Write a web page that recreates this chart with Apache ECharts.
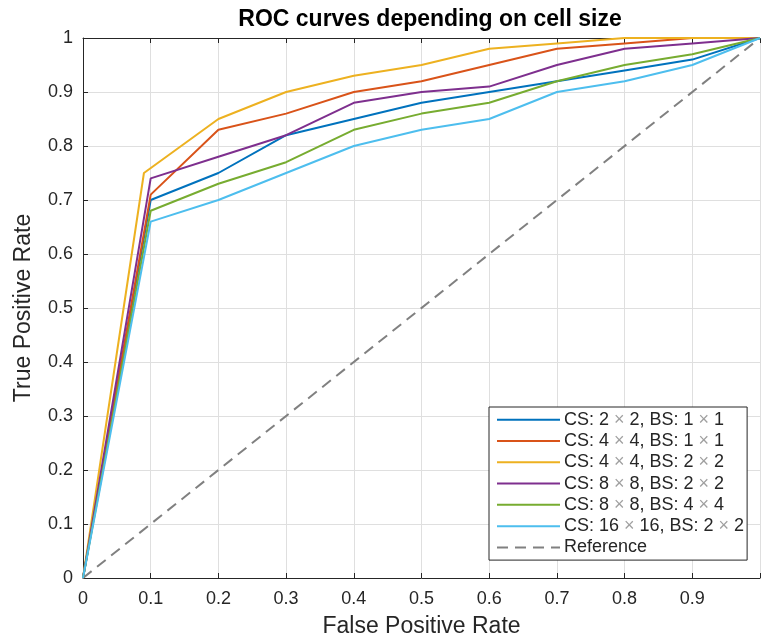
<!DOCTYPE html>
<html>
<head>
<meta charset="utf-8">
<script src="https://cdn.jsdelivr.net/npm/echarts@6/dist/echarts.min.js"></script>
<style>
html,body{margin:0;padding:0;background:#fff;}
#chart{width:763px;height:643px;}
</style>
</head>
<body>
<div id="chart"></div>
<script>
// ---- data ----
const seriesNames = [
  'CS: 2 × 2, BS: 1 × 1',
  'CS: 4 × 4, BS: 1 × 1',
  'CS: 4 × 4, BS: 2 × 2',
  'CS: 8 × 8, BS: 2 × 2',
  'CS: 8 × 8, BS: 4 × 4',
  'CS: 16 × 16, BS: 2 × 2'
];
const referenceName = 'Reference';
const fprDefault = [0, 0.1, 0.2, 0.3, 0.4, 0.5, 0.6, 0.7, 0.8, 0.9, 1];
const fprCS4BS2  = [0, 0.09, 0.2, 0.3, 0.4, 0.5, 0.6, 0.7, 0.8, 0.9, 1];
const tprCS2BS1  = [0, 0.70, 0.75, 0.82, 0.85, 0.88, 0.90, 0.92, 0.94, 0.96, 1];
const tprCS4BS1  = [0, 0.71, 0.83, 0.86, 0.90, 0.92, 0.95, 0.98, 0.99, 1.00, 1];
const tprCS4BS2  = [0, 0.75, 0.85, 0.90, 0.93, 0.95, 0.98, 0.99, 1.00, 1.00, 1];
const tprCS8BS2  = [0, 0.74, 0.78, 0.82, 0.88, 0.90, 0.91, 0.95, 0.98, 0.99, 1];
const tprCS8BS4  = [0, 0.68, 0.73, 0.77, 0.83, 0.86, 0.88, 0.92, 0.95, 0.97, 1];
const tprCS16BS2 = [0, 0.66, 0.70, 0.75, 0.80, 0.83, 0.85, 0.90, 0.92, 0.95, 1];
const refX = [0, 1];
const refY = [0, 1];
const xTicks = [0, 0.1, 0.2, 0.3, 0.4, 0.5, 0.6, 0.7, 0.8, 0.9];

// ---- styles ----
const colors = ['#0072BD', '#D95319', '#EDB120', '#7E2F8E', '#77AC30', '#4DBEEE'];
const xs = [fprDefault, fprDefault, fprCS4BS2, fprDefault, fprDefault, fprDefault];
const ys = [tprCS2BS1, tprCS4BS1, tprCS4BS2, tprCS8BS2, tprCS8BS4, tprCS16BS2];
const pair = (a, b) => a.map((v, i) => [v, b[i]]);

const series = seriesNames.map((n, i) => ({
  name: n, type: 'line', symbol: 'none', data: pair(xs[i], ys[i]),
  lineStyle: { color: colors[i], width: 2 }, itemStyle: { color: colors[i] },
  z: 3, animation: false
}));
series.push({
  name: referenceName, type: 'line', symbol: 'none', data: pair(refX, refY),
  lineStyle: { color: '#808080', width: 2, type: [11, 7] }, itemStyle: { color: '#808080' },
  z: 2, animation: false
});

const txt = '#262626';
const font = 'Liberation Sans, Arial, Helvetica, sans-serif';
const chart = echarts.init(document.getElementById('chart'), null, { renderer: 'canvas' });
chart.setOption({
  backgroundColor: '#fff',
  animation: false,
  title: {
    text: 'ROC curves depending on cell size',
    left: 425, top: 3, textAlign: 'center',
    textStyle: { fontFamily: font, fontSize: 23, fontWeight: 'bold', color: '#000' }
  },
  grid: { left: 83, top: 38, width: 686, height: 542.5 },
  xAxis: [{
    type: 'value', min: 0, max: 1, interval: 0.1,
    name: 'False Positive Rate', nameLocation: 'middle', nameGap: 37,
    nameTextStyle: { fontFamily: font, fontSize: 23, color: txt },
    axisLine: { show: true, lineStyle: { color: txt, width: 1 } },
    axisTick: { show: true, inside: true, length: 5, lineStyle: { color: txt } },
    axisLabel: { fontFamily: font, fontSize: 18, color: txt, margin: 12,
      formatter: v => (xTicks.some(t => Math.abs(t - v) < 1e-9) ? String(+v.toFixed(1)) : '') },
    splitLine: { show: true, lineStyle: { color: '#dfdfdf', width: 1 } }
  }, {
    type: 'value', min: 0, max: 1, interval: 0.1, position: 'top',
    axisLine: { show: true, lineStyle: { color: txt, width: 1 } },
    axisTick: { show: true, inside: true, length: 5, lineStyle: { color: txt } },
    axisLabel: { show: false }, splitLine: { show: false }
  }],
  yAxis: [{
    type: 'value', min: 0, max: 1, interval: 0.1,
    name: 'True Positive Rate', nameLocation: 'middle', nameGap: 48,
    nameTextStyle: { fontFamily: font, fontSize: 23, color: txt },
    axisLine: { show: true, lineStyle: { color: txt, width: 1 } },
    axisTick: { show: true, inside: true, length: 5, lineStyle: { color: txt } },
    axisLabel: { fontFamily: font, fontSize: 18, color: txt, margin: 10,
      formatter: v => String(+v.toFixed(1)) },
    splitLine: { show: true, lineStyle: { color: '#dfdfdf', width: 1 } }
  }],
  legend: {
    orient: 'vertical', left: 489, top: 407,
    data: seriesNames.concat([referenceName]),
    itemWidth: 63, itemHeight: 12, itemGap: 0,
    padding: [2, 3, 2, 7],
    itemStyle: { opacity: 0, borderWidth: 0 },
    backgroundColor: '#fff', borderColor: txt, borderWidth: 1, borderRadius: 0,
    selectedMode: false,
    formatter: n => n.replace(/×/g, '{x|×}'),
    textStyle: { fontFamily: font, fontSize: 18, color: txt, lineHeight: 21.3, padding: [0, 0, 0, -1],
      rich: { x: { color: '#a0a0a0', fontSize: 18, fontFamily: font, lineHeight: 21.3 } } }
  },
  series: series
});
</script>
</body>
</html>
